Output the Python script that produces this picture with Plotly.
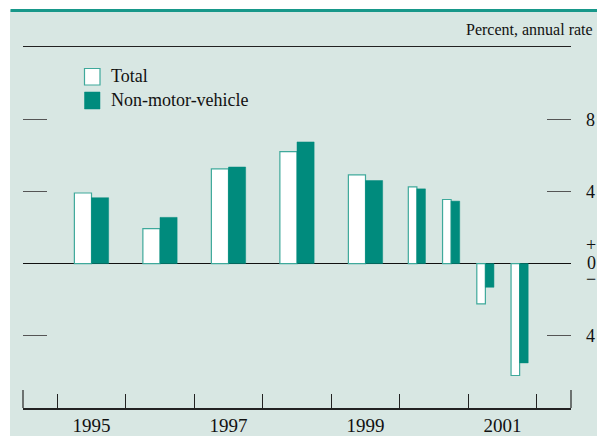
import plotly.graph_objects as go

# ---- data ----
periods = ["1995", "1996", "1997", "1998", "1999",
           "2000:H1", "2000:H2", "2001:H1", "2001:H2"]
total = [3.91, 1.94, 5.25, 6.20, 4.92, 4.25, 3.55, -2.23, -6.20]
non_motor_vehicle = [3.65, 2.56, 5.35, 6.74, 4.60, 4.14, 3.46, -1.31, -5.50]
year_labels = ["1995", "1997", "1999", "2001"]
year_bounds = [1995, 1996, 1997, 1998, 1999, 2000, 2001, 2002]
y_tick_vals = [-4, 4, 8]
y_tick_text = ["4", "4", "8"]

BG = "#d8e7e3"
TEAL = "#008b7d"
TEAL_LINE = "#3fa99b"
FONT = "Liberation Serif"


def position(label):
    if ":H" in label:
        yr, h = label.split(":H")
        return int(yr) + (0.25 if h == "1" else 0.75)
    return int(label) + 0.5


def half_width(label):
    return 0.125 if ":H" in label else 0.25


xs = [position(p) for p in periods]
ws = [half_width(p) for p in periods]

fig = go.Figure()
fig.add_trace(go.Bar(
    x=xs, y=total, width=ws, offset=[-w for w in ws], name="Total",
    marker=dict(color="white", line=dict(color=TEAL_LINE, width=1.2)),
))
fig.add_trace(go.Bar(
    x=xs, y=non_motor_vehicle, width=ws, offset=[0 for w in ws],
    name="Non-motor-vehicle",
    marker=dict(color=TEAL, line=dict(color=TEAL, width=0.5)),
))

shapes = [
    # white strips outside the tinted panel
    dict(type="rect", xref="paper", yref="paper", xsizemode="pixel", ysizemode="pixel",
         xanchor=0, yanchor=0, x0=-30, x1=-13, y0=-40, y1=410, fillcolor="white",
         line_width=0, layer="below"),
    dict(type="rect", xref="paper", yref="paper", xsizemode="pixel", ysizemode="pixel",
         xanchor=0, yanchor=1, x0=-30, x1=600, y0=37, y1=60, fillcolor="white",
         line_width=0, layer="below"),
    # teal top rule
    dict(type="line", xref="paper", yref="paper", xsizemode="pixel", ysizemode="pixel",
         xanchor=0, yanchor=1, x0=-12.5, x1=600, y0=36.5, y1=36.5,
         line=dict(color="#17988a", width=3)),
    # end ticks of the x axis
    dict(type="line", xref="x domain", yref="paper", ysizemode="pixel", yanchor=0,
         x0=0, x1=0, y0=0, y1=18, line=dict(color="#333", width=1.3)),
    dict(type="line", xref="x domain", yref="paper", ysizemode="pixel", yanchor=0,
         x0=1, x1=1, y0=0, y1=18, line=dict(color="#333", width=1.3)),
    # legend swatches
    dict(type="rect", xref="paper", yref="paper", xsizemode="pixel", ysizemode="pixel",
         xanchor=0, yanchor=1, x0=61.5, x1=77, y0=-21.5, y1=-38,
         fillcolor="white", line=dict(color=TEAL_LINE, width=1.2)),
    dict(type="rect", xref="paper", yref="paper", xsizemode="pixel", ysizemode="pixel",
         xanchor=0, yanchor=1, x0=61.5, x1=77, y0=-45, y1=-62,
         fillcolor=TEAL, line=dict(color=TEAL, width=0.5)),
]

annotations = [
    dict(text="Percent, annual rate", xref="paper", yref="paper", x=1, y=1,
         xanchor="right", yanchor="middle", xshift=24, yshift=18, showarrow=False,
         font=dict(family=FONT, size=16, color="#111")),
    dict(text="Total", xref="paper", yref="paper", x=0, y=1, xanchor="left",
         yanchor="middle", xshift=86, yshift=-29, showarrow=False,
         font=dict(family=FONT, size=18, color="#111")),
    dict(text="Non-motor-vehicle", xref="paper", yref="paper", x=0, y=1, xanchor="left",
         yanchor="middle", xshift=86, yshift=-53, showarrow=False,
         font=dict(family=FONT, size=18, color="#111")),
    dict(text="+", xref="paper", yref="y", x=1, y=0, xanchor="center", yanchor="middle",
         xshift=20, yshift=19, showarrow=False, font=dict(family=FONT, size=18, color="#111")),
    dict(text="0", xref="paper", yref="y", x=1, y=0, xanchor="center", yanchor="middle",
         xshift=20, yshift=1, showarrow=False, font=dict(family=FONT, size=18, color="#111")),
    dict(text="\u2212", xref="paper", yref="y", x=1, y=0, xanchor="center", yanchor="middle",
         xshift=20, yshift=-15, showarrow=False, font=dict(family=FONT, size=18, color="#111")),
]

fig.update_layout(
    width=597, height=436, autosize=False,
    margin=dict(l=23, r=26, t=47, b=28, autoexpand=False),
    paper_bgcolor=BG, plot_bgcolor=BG,
    barmode="overlay", showlegend=False,
    font=dict(family=FONT, size=18, color="#111"),
    shapes=shapes, annotations=annotations,
    xaxis=dict(
        range=[1994.5, 2002.5], showgrid=False, zeroline=False, automargin=False,
        showline=True, mirror=True, linecolor="#222", linewidth=1.5,
        tickmode="array", tickvals=[int(y) + 0.5 for y in year_labels],
        ticktext=year_labels, ticks="", ticklabelstandoff=0,
        tickfont=dict(family=FONT, size=19, color="#111"),
        minor=dict(tickmode="array", tickvals=year_bounds, ticks="inside",
                   ticklen=14, tickcolor="#222", tickwidth=1.3, showgrid=False),
        fixedrange=True,
    ),
    yaxis=dict(
        range=[-8, 12], showgrid=False, side="right", automargin=False,
        zeroline=True, zerolinecolor="#111", zerolinewidth=1.5,
        showline=False, tickmode="array", tickvals=y_tick_vals, ticktext=y_tick_text,
        ticks="inside", ticklen=24, tickcolor="#555", tickwidth=1.3, mirror="ticks",
        ticklabelstandoff=14, fixedrange=True,
    ),
)

fig.write_html(
    "out.html",
    config={"responsive": False, "displayModeBar": False, "staticPlot": True},
    post_script="document.body.style.margin='0px';document.body.style.overflow='hidden';",
)
